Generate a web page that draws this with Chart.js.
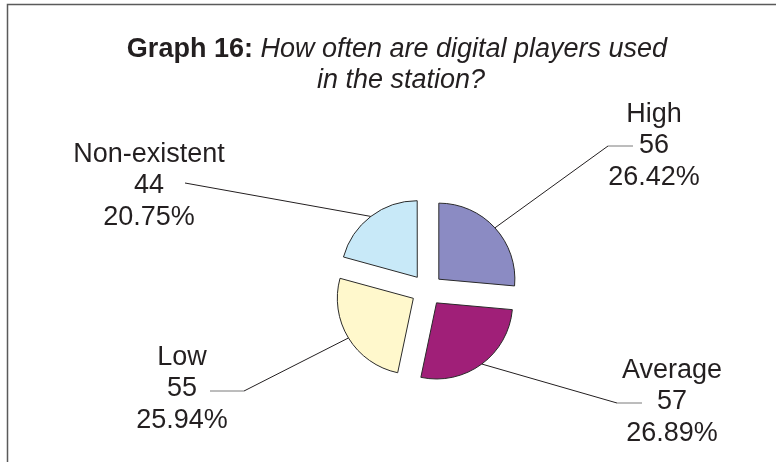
<!DOCTYPE html>
<html>
<head>
<meta charset="utf-8">
<script src="https://cdn.jsdelivr.net/npm/chart.js@4/dist/chart.umd.min.js"></script>
<style>
  html, body { margin: 0; padding: 0; background: #fff; }
  #wrap { width: 776px; height: 462px; position: relative; }
</style>
</head>
<body>
<div id="wrap"><canvas id="pieChart" width="776" height="462"></canvas></div>
<script>
// data
const categories = ['High', 'Average', 'Low', 'Non-existent'];
const counts = [56, 57, 55, 44];
const shares = [26.42, 26.89, 25.94, 20.75];

const sliceColors = ['#8b8bc3', '#a01f78', '#fff8cc', '#c8e9f8'];
const FONT = "'Liberation Sans', Arial, Helvetica, sans-serif";
const INK = '#231f20';

// where each label block sits, and the bend of its leader line
const labelLayout = [
  { cx: 654, y: 122, elbow: [608, 146], end: [633, 146] },
  { cx: 672, y: 378, elbow: [617, 403], end: [642, 403] },
  { cx: 182, y: 365, elbow: [244, 391], end: [210, 391] },
  { cx: 149, y: 162, elbow: null,       end: [185, 183] }
];

const decorations = {
  id: 'decorations',
  afterDraw(chart) {
    const ctx = chart.ctx;
    ctx.save();

    // frame (top and left rules)
    ctx.strokeStyle = '#5a5a5a';
    ctx.lineWidth = 1.5;
    ctx.beginPath();
    ctx.moveTo(776, 4.5);
    ctx.lineTo(7.5, 4.5);
    ctx.lineTo(7.5, 462);
    ctx.stroke();

    // title: bold lead-in followed by italic question
    ctx.fillStyle = INK;
    ctx.textBaseline = 'alphabetic';
    ctx.textAlign = 'left';
    const boldPart = 'Graph 16: ';
    const italicPart = 'How often are digital players used';
    ctx.font = 'bold 27px ' + FONT;
    const wb = ctx.measureText(boldPart).width;
    ctx.font = 'italic 27px ' + FONT;
    const wi = ctx.measureText(italicPart).width;
    let x0 = 397 - (wb + wi) / 2;
    ctx.font = 'bold 27px ' + FONT;
    ctx.fillText(boldPart, x0, 57);
    ctx.font = 'italic 27px ' + FONT;
    ctx.fillText(italicPart, x0 + wb, 57);
    ctx.textAlign = 'center';
    ctx.fillText('in the station?', 401, 88);

    // leader lines and value labels
    const meta = chart.getDatasetMeta(0);
    meta.data.forEach((arc, i) => {
      const p = arc.getProps(['x', 'y', 'startAngle', 'endAngle', 'outerRadius', 'circumference']);
      const mid = (p.startAngle + p.endAngle) / 2;
      const base = (arc.options.offset || 0) / 4;
      const shift = base + base * (1 - Math.sin(Math.min(Math.PI, p.circumference)));
      const sx = p.x + Math.cos(mid) * (p.outerRadius + shift);
      const sy = p.y + Math.sin(mid) * (p.outerRadius + shift);
      const lay = labelLayout[i];

      ctx.lineWidth = 1;
      ctx.strokeStyle = INK;
      ctx.beginPath();
      ctx.moveTo(sx, sy);
      if (lay.elbow) {
        ctx.lineTo(lay.elbow[0], lay.elbow[1]);
        ctx.stroke();
        ctx.strokeStyle = '#7a7a7a';
        ctx.beginPath();
        ctx.moveTo(lay.elbow[0], lay.elbow[1]);
        ctx.lineTo(lay.end[0], lay.end[1]);
      } else {
        ctx.lineTo(lay.end[0], lay.end[1]);
      }
      ctx.stroke();

      ctx.fillStyle = INK;
      ctx.font = '27px ' + FONT;
      ctx.textAlign = 'center';
      ctx.fillText(categories[i], lay.cx, lay.y);
      ctx.fillText(String(counts[i]), lay.cx, lay.y + 31);
      ctx.fillText(shares[i].toFixed(2) + '%', lay.cx, lay.y + 63);
    });
    ctx.restore();
  }
};

new Chart(document.getElementById('pieChart').getContext('2d'), {
  type: 'pie',
  data: {
    labels: categories,
    datasets: [{
      data: counts,
      backgroundColor: sliceColors,
      borderColor: '#2a2a2a',
      borderWidth: 1,
      offset: 64,
      radius: 76
    }]
  },
  options: {
    responsive: false,
    animation: false,
    layout: { padding: { left: 300, right: 222, top: 190, bottom: 72 } },
    plugins: {
      legend: { display: false },
      tooltip: { enabled: false },
      title: { display: false }
    }
  },
  plugins: [decorations]
});
</script>
</body>
</html>
